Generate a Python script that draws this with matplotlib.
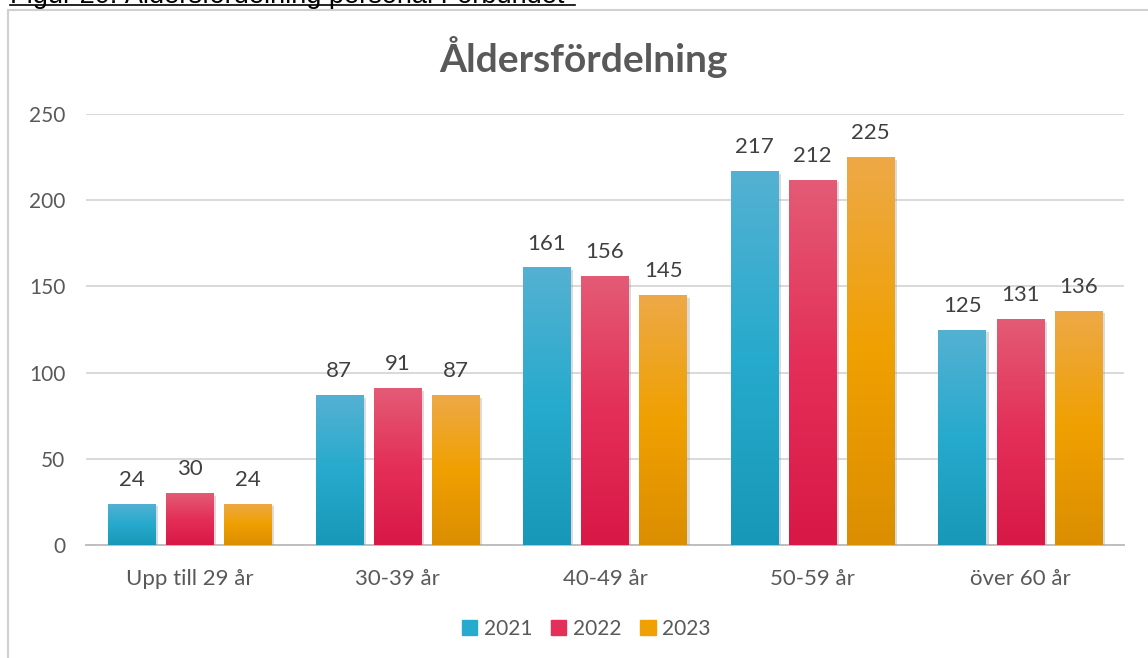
import numpy as np
import matplotlib
matplotlib.use("Agg")
import matplotlib.pyplot as plt
from matplotlib.colors import LinearSegmentedColormap
from matplotlib.patches import Rectangle
import matplotlib.patheffects as pe

# Data
categories = ["Upp till 29 år", "30-39 år", "40-49 år", "50-59 år", "över 60 år"]
years = ["2021", "2022", "2023"]
v2021 = [24, 87, 161, 217, 125]
v2022 = [30, 91, 156, 212, 131]
v2023 = [24, 87, 145, 225, 136]
series = [v2021, v2022, v2023]

# gradient colours (top, middle, bottom) per series
grads = [
    ("#55b1d2", "#26aacd", "#1898b8"),
    ("#e35b76", "#e42f58", "#d81847"),
    ("#eda947", "#f0a000", "#db8e00"),
]

plt.rcParams["font.family"] = ["Lato", "DejaVu Sans"]

W, H = 1148, 658
fig = plt.figure(figsize=(W / 100, H / 100), dpi=100)
ax = fig.add_axes([86 / W, 1 - 545 / H, (1124 - 86) / W, (545 - 114) / H])

x = np.arange(len(categories))
w = 0.228
step = 0.28
for i, (vals, g) in enumerate(zip(series, grads)):
    cmap = LinearSegmentedColormap.from_list(f"g{i}", [g[2], g[1], g[0]])
    bars = ax.bar(x + (i - 1) * step, vals, w, color=g[1], zorder=3,
                  path_effects=[pe.SimplePatchShadow(offset=(2, -2), shadow_rgbFace="#999999", alpha=0.35),
                                pe.Normal()])
    for b, v in zip(bars, vals):
        x0, wd, ht = b.get_x(), b.get_width(), b.get_height()
        im = ax.imshow(np.linspace(0, 1, 256).reshape(-1, 1), cmap=cmap, origin="lower",
                       extent=[x0, x0 + wd, 0, ht], aspect="auto", zorder=4)
        im.set_clip_path(b)
        ax.text(x0 + wd / 2, v + 8, str(v), ha="center", va="bottom",
                fontsize=16, color="#404040", zorder=5)

ax.set_xlim(-0.5, len(categories) - 0.5)
ax.set_ylim(0, 250)
ax.set_yticks(range(0, 251, 50))
ax.set_xticks(x)
ax.set_xticklabels(categories)
ax.tick_params(axis="both", length=0, labelcolor="#595959")
ax.tick_params(axis="y", pad=15, labelsize=15)
ax.tick_params(axis="x", pad=17, labelsize=16)
ax.grid(True, axis="y", color="#d9d9d9", linewidth=1.4, zorder=0)
for s in ["top", "right", "left"]:
    ax.spines[s].set_visible(False)
ax.spines["bottom"].set_color("#bfbfbf")
ax.spines["bottom"].set_linewidth(1.4)

fig.text(583 / W, 1 - 57 / H, "Åldersfördelning", ha="center", va="center",
         fontsize=28, fontweight="bold", color="#595959")

handles = [Rectangle((0, 0), 1, 1, color=g[1]) for g in grads]
fig.legend(handles, years, loc="center", bbox_to_anchor=(586 / W, 1 - 629 / H),
           ncol=3, frameon=False, fontsize=15, labelcolor="#595959",
           handlelength=0.75, handleheight=0.75, handletextpad=0.3, columnspacing=0.9)

# chart frame and clipped caption above it
fig.patches.append(Rectangle((8 / W, -0.1), 1.2, 1 - 10 / H + 0.1, transform=fig.transFigure,
                             fill=False, edgecolor="#d0d0d0", linewidth=1.5, zorder=0))
fig.text(10 / W, 1 - 3 / H, "Figur 20: Åldersfördelning personal Förbundet", ha="left",
         va="baseline", fontsize=19.5, color="black", family=["Liberation Sans", "DejaVu Sans"])
fig.add_artist(plt.Line2D([10 / W, 575 / W], [1 - 5 / H, 1 - 5 / H], transform=fig.transFigure,
                          color="black", linewidth=1.2))

fig.savefig("out.png", dpi=100)
